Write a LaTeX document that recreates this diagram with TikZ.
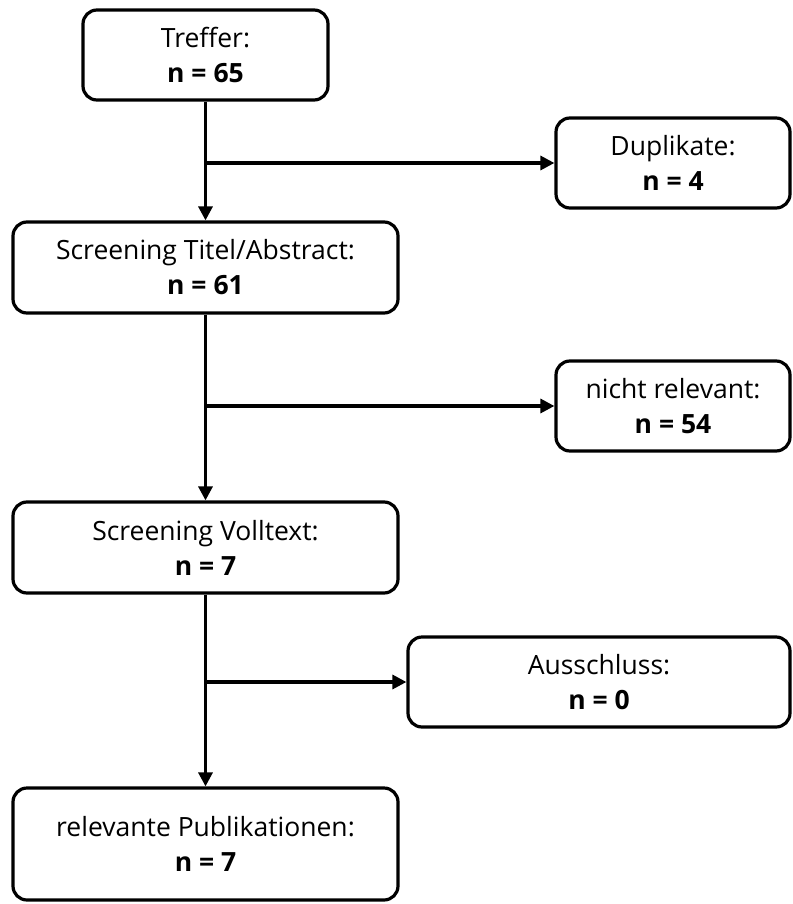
\documentclass[tikz,border=0pt]{standalone}
\usepackage{fontspec}
\setmainfont{Open Sans}
\usetikzlibrary{arrows.meta}
\begin{document}
\begin{tikzpicture}[x=1pt,y=-1pt,
  box/.style={draw=black,line width=3.2pt,rounded corners=14pt,align=center,
    inner sep=0pt,font=\fontsize{26.5}{35}\selectfont,text=black},
  conn/.style={line width=3.2pt,-{Triangle[length=14pt,width=14pt]}}]
\useasboundingbox (0,0) rectangle (792,904);
\node[box,minimum width=245pt,minimum height=90pt] (treffer) at (205.5,55) {Treffer:\\\textbf{n = 65}};
\node[box,minimum width=234pt,minimum height=90pt] (dup) at (673,163) {Duplikate:\\\textbf{n = 4}};
\node[box,minimum width=385pt,minimum height=91pt] (sta) at (205.5,267.5) {Screening Titel/Abstract:\\\textbf{n = 61}};
\node[box,minimum width=234pt,minimum height=90pt] (nrel) at (673,406) {nicht relevant:\\\textbf{n = 54}};
\node[box,minimum width=385pt,minimum height=91pt] (svt) at (205.5,547.5) {Screening Volltext:\\\textbf{n = 7}};
\node[box,minimum width=382pt,minimum height=90pt] (aus) at (599,682) {Ausschluss:\\\textbf{n = 0}};
\node[box,minimum width=385pt,minimum height=112pt] (rel) at (205.5,844) {relevante Publikationen:\\\textbf{n = 7}};
\coordinate (b1) at (treffer.south |- dup.west);
\coordinate (b2) at (sta.south |- nrel.west);
\coordinate (b3) at (svt.south |- aus.west);
\draw[conn] (treffer.south) -- (sta.north);
\draw[conn] (b1) -- (dup.west);
\draw[conn] (sta.south) -- (svt.north);
\draw[conn] (b2) -- (nrel.west);
\draw[conn] (svt.south) -- (rel.north);
\draw[conn] (b3) -- (aus.west);
\end{tikzpicture}
\end{document}
